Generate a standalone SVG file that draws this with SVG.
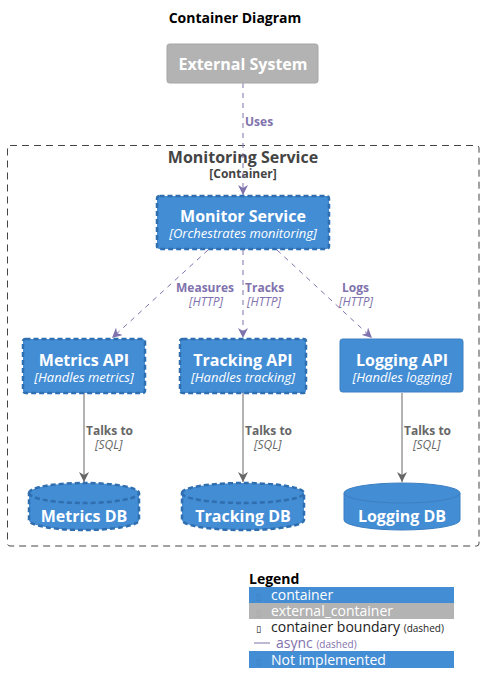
<svg xmlns="http://www.w3.org/2000/svg" width="484" height="695" viewBox="0 0 484 695">
<style>
text{font-family:"Open Sans","Noto Sans","DejaVu Sans",sans-serif}
.t{font-weight:bold;font-size:16px;fill:#fff;text-anchor:middle}
.d{font-style:italic;font-size:13px;fill:#fff;text-anchor:middle}
.box{fill:#438dd5;stroke:#3c7fc0;stroke-width:1}
.ni{fill:#438dd5;stroke:#2f6eaf;stroke-width:2.5;stroke-dasharray:5,3}
.ext{fill:#b3b3b3;stroke:#a6a6a6;stroke-width:1}
.async{stroke:#7f72ad;stroke-width:1;stroke-dasharray:5,5;fill:none}
.sync{stroke:#666;stroke-width:1;fill:none}
.al{font-weight:bold;font-size:12px;fill:#7f72ad}
.ad{font-style:italic;font-size:12px;fill:#7f72ad}
.sl{font-weight:bold;font-size:12px;fill:#666}
.sd{font-style:italic;font-size:12px;fill:#666}
.lg{font-size:14px;fill:#fff}
</style>
<defs>
<marker id="ap" viewBox="0 0 10 10" refX="10" refY="5" markerWidth="10" markerHeight="10" markerUnits="userSpaceOnUse" orient="auto"><path d="M0,0 L10,5 L0,10 L3,5 Z" fill="#7f72ad"/></marker>
<marker id="as" viewBox="0 0 10 10" refX="10" refY="5" markerWidth="10" markerHeight="10" markerUnits="userSpaceOnUse" orient="auto"><path d="M0,0 L10,5 L0,10 L3,5 Z" fill="#666"/></marker>
</defs>
<rect width="484" height="695" fill="#fff"/>
<text x="235" y="23" style="font-weight:bold;font-size:14px;fill:#000;text-anchor:middle">Container Diagram</text>

<g id="boundary">
<rect x="7.5" y="145.5" width="471.5" height="400.5" rx="2.5" fill="none" stroke="#444" stroke-width="1" stroke-dasharray="7,5"/>
<text x="243" y="163" style="font-weight:bold;font-size:16px;fill:#444;text-anchor:middle">Monitoring Service</text>
<text x="243" y="178" style="font-weight:bold;font-size:12px;fill:#444;text-anchor:middle">[Container]</text>
</g>

<g id="connectors">
<path class="async" d="M243,83 V195" marker-end="url(#ap)"/>
<path class="async" d="M208,250 L112,338" marker-end="url(#ap)"/>
<path class="async" d="M243,250 V338" marker-end="url(#ap)"/>
<path class="async" d="M277,250 L372,338" marker-end="url(#ap)"/>
<path class="sync" d="M84,393 V482" marker-end="url(#as)"/>
<path class="sync" d="M243,393 V482" marker-end="url(#as)"/>
<path class="sync" d="M402,393 V482" marker-end="url(#as)"/>
<text class="al" x="245" y="126">Uses</text>
<text class="al" x="234" y="292" text-anchor="end">Measures</text>
<text class="ad" x="206" y="306" text-anchor="middle">[HTTP]</text>
<text class="al" x="245" y="292">Tracks</text>
<text class="ad" x="247" y="306">[HTTP]</text>
<text class="al" x="342" y="292">Logs</text>
<text class="ad" x="339" y="306">[HTTP]</text>
<text class="sl" x="86" y="435">Talks to</text>
<text class="sd" x="95" y="449">[SQL]</text>
<text class="sl" x="245" y="435">Talks to</text>
<text class="sd" x="254" y="449">[SQL]</text>
<text class="sl" x="404" y="435">Talks to</text>
<text class="sd" x="413" y="449">[SQL]</text>
</g>

<g id="external-system">
<rect class="ext" x="167" y="44" width="151" height="39" rx="2.5"/>
<text class="t" x="243" y="70">External System</text>
</g>

<g id="monitor-service">
<rect class="ni" x="157" y="196" width="172" height="53" rx="2.5"/>
<text class="t" x="243" y="222">Monitor Service</text>
<text class="d" x="243" y="238">[Orchestrates monitoring]</text>
</g>

<g id="metrics-api">
<rect class="ni" x="23" y="339" width="122" height="54" rx="2.5"/>
<text class="t" x="84" y="366">Metrics API</text>
<text class="d" x="84" y="382">[Handles metrics]</text>
</g>

<g id="tracking-api">
<rect class="ni" x="180" y="339" width="126" height="54" rx="2.5"/>
<text class="t" x="243" y="366">Tracking API</text>
<text class="d" x="243" y="382">[Handles tracking]</text>
</g>

<g id="logging-api">
<rect class="box" x="340" y="339" width="123" height="53" rx="2.5"/>
<text class="t" x="402" y="366">Logging API</text>
<text class="d" x="402" y="382">[Handles logging]</text>
</g>

<g id="metrics-db">
<path class="ni" d="M29,493 A55,10 0 0 1 139,493 V520 A55,10 0 0 1 29,520 Z"/>
<path d="M29,493 A55,10 0 0 0 139,493" fill="none" stroke="#2f6eaf" stroke-width="2.5" stroke-dasharray="5,3"/>
<text class="t" x="84" y="522">Metrics DB</text>
</g>

<g id="tracking-db">
<path class="ni" d="M182,493 A61,10 0 0 1 304,493 V520 A61,10 0 0 1 182,520 Z"/>
<path d="M182,493 A61,10 0 0 0 304,493" fill="none" stroke="#2f6eaf" stroke-width="2.5" stroke-dasharray="5,3"/>
<text class="t" x="243" y="522">Tracking DB</text>
</g>

<g id="logging-db">
<path class="box" d="M344,493 A58,10 0 0 1 460,493 V520 A58,10 0 0 1 344,520 Z"/>
<path d="M344,493 A58,10 0 0 0 460,493" fill="none" stroke="#3c7fc0" stroke-width="1"/>
<text class="t" x="402" y="522">Logging DB</text>
</g>

<g id="legend">
<text x="249" y="584" style="font-weight:bold;font-size:14px;fill:#000">Legend</text>
<rect x="249" y="587" width="205" height="16" fill="#438dd5"/>
<rect x="249" y="603" width="205" height="16" fill="#b3b3b3"/>
<rect x="249" y="651" width="205" height="17" fill="#438dd5"/>
<text x="256" y="600" style="font-size:9px;fill:#3c7fc0">▯</text>
<text class="lg" x="271" y="600">container</text>
<text x="256" y="616" style="font-size:9px;fill:#a9a9a9">▯</text>
<text class="lg" x="271" y="616">external_container</text>
<text x="256" y="632" style="font-size:9px;fill:#000">▯</text>
<text x="271" y="632" style="font-size:14px;fill:#222">container boundary <tspan style="font-size:10px">(dashed)</tspan></text>
<line x1="254" y1="643" x2="270" y2="643" stroke="#7f72ad" stroke-width="1"/>
<text x="276" y="648" style="font-size:14px;fill:#7f72ad">async <tspan style="font-size:10px">(dashed)</tspan></text>
<text x="256" y="665" style="font-size:9px;fill:#3c7fc0">▯</text>
<text class="lg" x="271" y="665">Not implemented</text>
</g>
</svg>
